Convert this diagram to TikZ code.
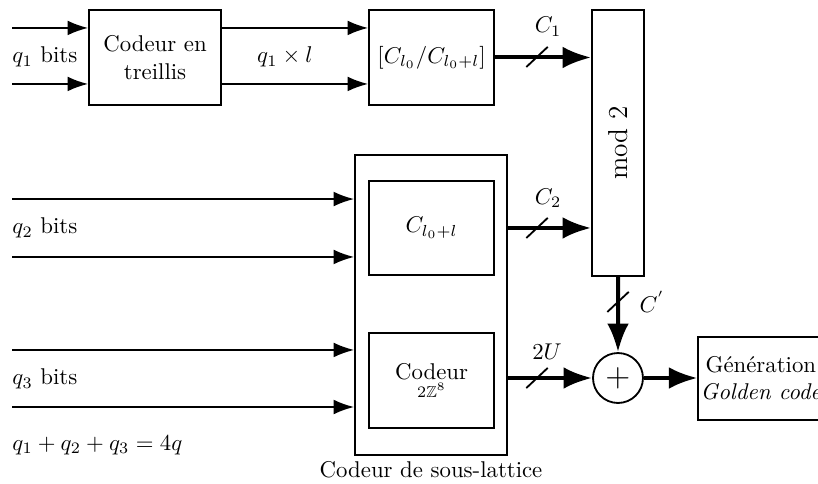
\documentclass[tikz,border=0pt]{standalone}
\usepackage{amssymb}
\usepackage{graphicx}
\usetikzlibrary{arrows.meta,calc}

\tikzset{
  bloc/.style={draw, thick, inner sep=1pt, align=center},
  fin/.style={thick, -{Latex[length=9pt,width=6.5pt]}},
  gros/.style={line width=1.75pt, -{Latex[length=12.5pt,width=9.5pt]}},
  etiq/.style={inner sep=0pt, anchor=west}
}
% slash mark on a bus
\newcommand{\coupe}[1]{\draw[thick] ($(#1)+(-0.165,-0.155)$) -- ($(#1)+(0.165,0.155)$);}

\begin{document}
\begin{tikzpicture}
\useasboundingbox (0,0) rectangle (12.605,7.443);

% Parameters
\def\xin{0.185}
\def\xlab{0.185}

% Blocks
\node[bloc, minimum width=2.035cm, minimum height=1.464cm] (treillis) at (2.389,6.557) {Codeur en\\treillis};
\node[bloc, minimum width=1.927cm, minimum height=1.464cm] (quot) at (6.650,6.557) {$[C_{l_0}/C_{l_0+l}]$};
\node[bloc, minimum width=0.801cm, minimum height=4.099cm] (mod) at (9.524,5.240) {\rotatebox{90}{\large mod 2}};
\node[bloc, minimum width=2.342cm, minimum height=4.623cm] (sous) at (6.642,2.743) {};
\node[bloc, minimum width=1.927cm, minimum height=1.449cm] (cl) at (6.650,3.930) {$C_{l_0+l}$};
\node[bloc, minimum width=1.927cm, minimum height=1.464cm] (zhuit) at (6.650,1.580) {Codeur\\[-4pt]{\scriptsize $2\mathbb{Z}^8$}};
\node[draw, thick, circle, minimum size=0.77cm, inner sep=0pt] (somme) at (9.523,1.618) {\Large $+$};
\node[bloc, minimum width=1.88cm, minimum height=1.279cm] (gen) at (11.725,1.610) {G\'en\'eration\\\textit{Golden code}};
\node[below, inner sep=2pt] (lsous) at (sous.south) {Codeur de sous-lattice};

% Inputs
\coordinate (e1) at (\xin,7.012);
\coordinate (e2) at (\xin,6.149);
\draw[fin] (e1) -- (e1 -| treillis.west);
\draw[fin] (e2) -- (e2 -| treillis.west);
\foreach \y/\n in {4.376/a, 3.483/b, 2.050/c, 1.171/d}{
  \coordinate (e\n) at (\xin,\y);
  \draw[fin] (e\n) -- (e\n -| sous.west);
}
\node[etiq] (lq1) at (\xlab,6.565) {$q_1$ bits};
\node[etiq] (lq2) at (\xlab,3.93) {$q_2$ bits};
\node[etiq] (lq3) at (\xlab,1.60) {$q_3$ bits};
\node[etiq] (lsum) at (\xlab,0.58) {$q_1+q_2+q_3=4q$};

% Trellis to quotient
\draw[fin] (treillis.east |- e1) -- (quot.west |- e1);
\draw[fin] (treillis.east |- e2) -- (quot.west |- e2);
\node (lql) at (4.39,6.565) {$q_1 \times l$};

% Buses to mod 2
\draw[gros] (quot.east) -- (mod.west |- quot.east);
\coordinate (s1) at (8.275,6.565);
\coupe{s1}
\node (lC1) at (8.445,7.03) {$C_1$};

\draw[gros] (sous.east |- cl.east) -- (mod.west |- cl.east);
\coordinate (s2) at (8.275,3.93);
\coupe{s2}
\node (lC2) at (8.445,4.39) {$C_2$};

% mod 2 to sum
\draw[gros] (mod.south) -- (somme.north);
\coordinate (s3) at (9.523,2.79);
\coupe{s3}
\node[etiq] (lCp) at (9.85,2.79) {$C^{'}$};

% Lattice coder to sum
\draw[gros] (sous.east |- somme.west) -- (somme.west);
\coordinate (s4) at (8.275,1.618);
\coupe{s4}
\node (l2U) at (8.43,2.02) {$2U$};

% Output
\draw[gros] (somme.east) -- (gen.west |- somme.east);

\end{tikzpicture}
\end{document}
